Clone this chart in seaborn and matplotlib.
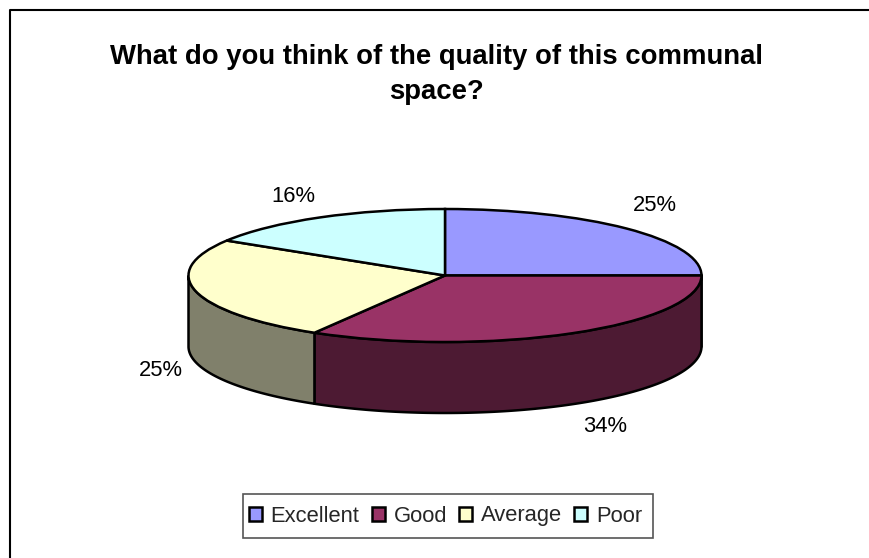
import numpy as np
import matplotlib
matplotlib.use('Agg')
import matplotlib.pyplot as plt
import seaborn as sns

# values
categories = ['Excellent', 'Good', 'Average', 'Poor']
shares = [25.0, 33.5, 25.3, 16.2]
top_colors = ['#9999FF', '#993366', '#FFFFCC', '#CCFFFF']
side_colors = ['#4D4D80', '#4D1A33', '#80806B', '#668080']
title_text = 'What do you think of the quality of this communal\nspace?'

W, H = 869, 558
sns.set_theme(style='white')
plt.rcParams['font.family'] = ['Liberation Sans', 'DejaVu Sans']

fig = plt.figure(figsize=(W / 100, H / 100), dpi=100, facecolor='white')

# pie ellipse in pixels, axes is stretched so the unit circle gets squashed
cx, cy, rx, ry, depth = 445, 275.5, 256.5, 66.5, 71
dz = depth / ry
ax = fig.add_axes([(cx - rx) / W, 1 - (cy + ry + depth) / H, 2 * rx / W, (2 * ry + depth) / H])

wedges, _ = ax.pie(shares, colors=top_colors, startangle=90, counterclock=False,
                   wedgeprops={'edgecolor': 'black', 'linewidth': 1.8, 'zorder': 3})
ax.set_aspect('auto')
ax.set_xlim(-1, 1)
ax.set_ylim(-1 - dz, 1)

# side wall, only the front half of each slice shows
cum = np.cumsum([0] + shares) / sum(shares)
for i in range(len(shares)):
    a0 = np.pi / 2 - 2 * np.pi * cum[i]
    a1 = np.pi / 2 - 2 * np.pi * cum[i + 1]
    t = np.linspace(a0, a1, 200)
    t = t[np.sin(t) <= 0]
    if len(t) == 0:
        continue
    x = np.cos(t)
    y = np.sin(t)
    xs = np.r_[x, x[::-1]]
    ys = np.r_[y, y[::-1] - dz]
    ax.fill(xs, ys, facecolor=side_colors[i], edgecolor='black', linewidth=1.8,
            zorder=2, joinstyle='round', clip_on=False)

# percent labels
label_pos = [(655, 205.5), (605, 426.5), (161, 370.5), (293, 196.5)]
for s, (px, py) in zip(shares, label_pos):
    fig.text(px / W, 1 - py / H, f'{s:.0f}%', ha='center', va='center', fontsize=15.8, color='black')

fig.text(436 / W, 1 - 74.5 / H, title_text, ha='center', va='center', fontsize=19.8,
         fontweight='bold', color='black', linespacing=1.48)

# legend frame is drawn apart because its padding is wider on top than at the sides
fig.add_artist(plt.Rectangle((243 / W, 1 - 538 / H), 410 / W, 44 / H, transform=fig.transFigure,
                             facecolor='white', edgecolor='#555555', linewidth=1.2))
leg = fig.legend(wedges, categories, ncol=4, loc='center', bbox_to_anchor=(445.5 / W, 1 - 516 / H),
                 fontsize=15.8, frameon=False, handlelength=0.6, handleheight=0.6,
                 columnspacing=0.55, handletextpad=0.4, borderpad=0, borderaxespad=0)

# only the top and left of the chart area border are in frame
fig.add_artist(plt.Line2D([10 / W, 10 / W, 1], [0, 1 - 9.5 / H, 1 - 9.5 / H],
                          transform=fig.transFigure, color='black', linewidth=1.5))

fig.savefig('out.png', dpi=100)
